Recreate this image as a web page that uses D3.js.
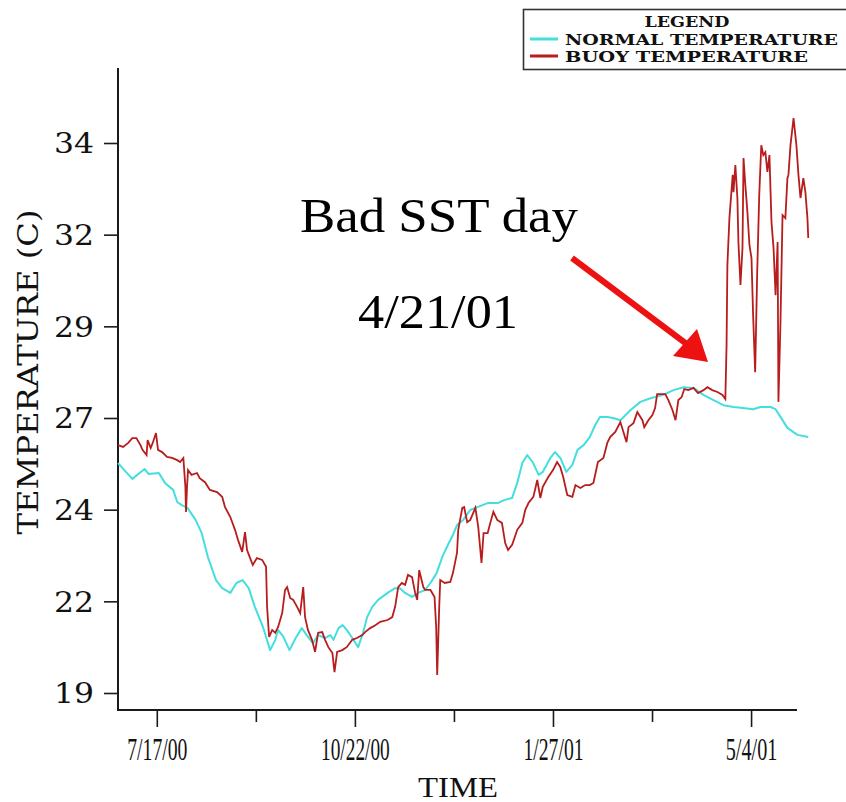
<!DOCTYPE html>
<html>
<head>
<meta charset="utf-8">
<script src="https://cdn.jsdelivr.net/npm/d3@7"></script>
<style>
  html, body { margin: 0; padding: 0; background: #fff; }
  svg { display: block; }
</style>
</head>
<body>
<svg id="chart" width="846" height="802"></svg>
<script>
// ---- DATA ----
const startDate = "2000-06-28";               // day 0 of the series
const endDate = "2001-05-26";

// Normal (climatological) temperature, days since startDate
const normalDays = [0,7,13,15,20,23,27,29,31,34,38,41,44,48,51,55,58,61,64,67,71,74.5,77,78.4,81,84,87,
  90,93,95.5,98,101.4,104,105.5,108,110,112,114.7,117.6,120,122,124.5,127.4,132,135.7,138,140.6,144,147,150.4,153,156,159,162,164,166,169,172.5,176,181,186,189,193,195.5,198,200.4,203,206,208,211.7,214,216.6,219.5,222.5,225,228,231,233.7,236,239.6,242.5,246,
  251,255.8,260.7,267,272,277,281.8,286.7,291.6,296.5,301.4,306,311,314.6,319.5,322,324.4,327.8,332.7,338];
const normalTemps = [25.27,24.84,25.11,24.97,25.0,24.73,24.54,24.21,24.13,24.05,23.72,23.36,22.71,22.08,21.86,21.73,22.0,22.08,21.86,21.35,20.8,20.17,20.45,20.72,20.53,20.17,20.5,
  20.77,20.53,20.36,20.58,20.5,20.58,20.45,20.77,20.85,20.72,20.5,20.25,20.64,21.07,21.35,21.54,21.73,21.86,21.86,21.73,21.62,21.73,21.81,22.0,22.27,22.74,23.09,23.31,23.58,23.72,23.99,24.07,24.18,24.18,24.26,24.32,24.73,25.27,25.49,25.3,24.95,25.03,25.41,25.57,25.41,25.03,25.22,25.63,25.76,25.98,26.31,26.53,26.53,26.5,26.44,
  26.72,26.94,27.04,27.13,27.26,27.34,27.32,27.13,26.99,26.85,26.8,26.77,26.74,26.8,26.8,26.74,26.53,26.23,26.04,25.98];

// Buoy temperature, days since startDate
const buoyDays = [0,2.5,5,7,9,11,12,14,14.5,16,17,18.6,19.6,21.6,24,26.5,29,30.4,32,33,33.3,33.8,34.3,36,38.7,40,42.6,45,48.5,51,52.4,55,57.3,58.8,60.8,62.2,63.2,64.7,66,68,70.6,72.5,73,74,75.5,77,78.4,80.4,81.8,82.8,84.3,85.8,87.7,89.2,90.7,91.6,93,95,96.5,98,100,101.4,103,105,106,107.3,109.8,112,114.7,117,119.6,121,123.5,126,128.4,132,134.3,135.7,137.2,139,140.6,142,144,145.5,146.5,147.5,149.5,150.4,153,155,155.8,156.3,157.3,157.8,160,162.7,164,166,166.6,168.6,169.5,171,172.5,175,176.4,178,179,181,182.3,183.8,185.7,188,189.6,191,193,195.5,198,199.4,201,203.4,205.3,206.8,208,210.7,213,215,216.6,218,220,222.5,224,226.4,228.8,231,232.8,235,237.7,239.6,241,243.5,246,247.5,249,250,252.4,254.3,256.8,257.7,259.7,261.7,263,264,266.6,268,269.5,271.5,273,274.4,276,277.3,279.3,281.8,284,286.7,288.6,291,293.5,296,297.4,298,298.4,299.4,301,301.4,302.3,303.3,303.8,304.8,305.8,306.3,307.2,308.2,309.2,310.2,311,312,313,314,315,316,317,318,319,320,321,322,323,323.4,324.4,325.4,326.8,327.8,328.3,329.3,330.8,332.2,333.2,334.2,335.6,336.6,337.6,338];
const buoyTemps = [25.76,25.71,25.82,25.95,25.95,25.76,25.63,25.49,25.9,25.68,25.82,26.09,25.63,25.57,25.44,25.41,25.35,25.3,25.41,24.62,23.94,24.62,25.08,24.95,25.0,24.86,24.75,24.54,24.48,24.35,24.07,23.8,23.45,23.17,22.85,23.39,22.9,22.68,22.49,22.68,22.63,22.44,21.35,20.53,20.72,20.64,20.8,21.18,21.81,21.89,21.59,21.54,21.35,21.18,21.89,21.07,20.72,20.45,20.12,20.64,20.66,20.45,20.25,20.09,19.57,20.12,20.17,20.25,20.45,20.5,20.58,20.66,20.77,20.85,20.94,20.99,21.07,21.35,21.89,22.0,21.95,22.22,22.16,21.73,21.54,22.35,21.89,21.81,21.81,21.62,20.8,19.49,21.35,22.08,22.0,22.03,22.27,22.82,23.45,24.05,24.07,23.66,23.72,24.05,23.53,22.55,23.36,23.36,23.64,23.94,23.72,23.64,23.09,22.9,23.04,23.45,23.64,23.99,24.18,24.35,24.81,24.32,24.62,24.89,25.08,25.3,25.16,24.89,24.4,24.35,24.67,24.59,24.67,24.67,24.73,25.3,25.41,25.82,25.98,26.12,26.39,26.12,25.84,26.25,26.36,26.66,26.44,26.25,26.44,26.58,26.77,27.15,27.15,27.15,26.99,26.72,26.44,26.99,27.07,27.29,27.26,27.32,27.18,27.26,27.34,27.26,27.21,27.13,27.02,28.49,30.67,31.95,33.13,32.66,33.4,32.5,31.3,30.13,31.14,33.59,32.85,32.12,31.22,30.86,29.31,27.75,30.48,32.58,33.94,33.67,33.75,33.21,33.67,31.84,31.14,29.85,31.3,26.94,29.12,32.03,31.95,33.04,33.13,33.94,34.68,33.94,33.13,32.5,33.04,32.66,31.95,31.41];

const yTickValues = [19, 21.5, 24, 26.5, 29, 31.5, 34];
const yTickLabels = ["19", "22", "24", "27", "29", "32", "34"];
const xTickDates = ["2000-07-17", "2000-10-22", "2001-01-27", "2001-05-04"];
const xTickLabels = ["7/17/00", "10/22/00", "1/27/01", "5/4/01"];
const legendItems = ["NORMAL TEMPERATURE", "BUOY TEMPERATURE"];
const seriesColors = ["#45dede", "#b81d1d"];

// ---- CHART ----
const svg = d3.select("#chart");
const parse = d3.utcParse("%Y-%m-%d");
const t0 = parse(startDate).getTime();
const dayToDate = d => new Date(t0 + d * 864e5);

const x = d3.scaleUtc().domain([parse(startDate), parse(endDate)]).range([118, 796]);
const y = d3.scaleLinear().domain([19, 34]).range([693, 143]);

const axisColor = "#1a1a1a";
const serifMono = "'DejaVu Serif', 'Liberation Serif', serif";
const times = "'Liberation Serif', 'Times New Roman', serif";

// Y axis
const yAxis = d3.axisLeft(y)
  .tickValues(yTickValues)
  .tickFormat((d, i) => yTickLabels[i])
  .tickSize(14).tickSizeOuter(0).tickPadding(10);
const gy = svg.append("g").attr("transform", "translate(118,0)").call(yAxis);
gy.select(".domain").remove();
gy.selectAll(".tick line").attr("stroke", axisColor).attr("stroke-width", 1.6);
gy.selectAll(".tick text")
  .attr("font-family", serifMono).attr("font-size", 27).attr("fill", "#111")
  .attr("textLength", 40).attr("lengthAdjust", "spacingAndGlyphs")
  .attr("dy", "0.36em");
svg.append("line").attr("x1", 118).attr("x2", 118).attr("y1", 68).attr("y2", 711)
  .attr("stroke", axisColor).attr("stroke-width", 2);

// X axis
const majorDates = xTickDates.map(parse);
const minorDates = d3.pairs(majorDates).map(([a, b]) => new Date((a.getTime() + b.getTime()) / 2));
const xAxisMajor = d3.axisBottom(x).tickValues(majorDates)
  .tickFormat((d, i) => xTickLabels[i]).tickSize(17).tickSizeOuter(0);
const gx = svg.append("g").attr("transform", "translate(0,710)").call(xAxisMajor);
gx.select(".domain").remove();
gx.selectAll(".tick line").attr("stroke", axisColor).attr("stroke-width", 1.6);
gx.selectAll(".tick text")
  .attr("y", 50).attr("dy", 0)
  .attr("font-family", times).attr("font-size", 31).attr("fill", "#111")
  .attr("textLength", (d, i) => xTickLabels[i].length * 8.6)
  .attr("lengthAdjust", "spacingAndGlyphs");
const gxm = svg.append("g").attr("transform", "translate(0,710)")
  .call(d3.axisBottom(x).tickValues(minorDates).tickFormat("").tickSize(12).tickSizeOuter(0));
gxm.select(".domain").remove();
gxm.selectAll(".tick line").attr("stroke", axisColor).attr("stroke-width", 1.6);
svg.append("line").attr("x1", 117).attr("x2", 797).attr("y1", 710).attr("y2", 710)
  .attr("stroke", axisColor).attr("stroke-width", 2);

// Axis titles
svg.append("text").attr("x", 458).attr("y", 797).attr("text-anchor", "middle")
  .attr("font-family", times).attr("font-size", 29).attr("fill", "#111")
  .attr("textLength", 80).attr("lengthAdjust", "spacingAndGlyphs").text("TIME");
svg.append("text").attr("transform", "translate(38,372) rotate(-90)").attr("text-anchor", "middle")
  .attr("font-family", serifMono).attr("font-size", 27).attr("fill", "#111")
  .attr("textLength", 325).attr("lengthAdjust", "spacingAndGlyphs").text("TEMPERATURE (C)");

// Lines
const line = d3.line().x(d => x(dayToDate(d[0]))).y(d => y(d[1]));
const normalData = normalDays.map((d, i) => [d, normalTemps[i]]);
const buoyData = buoyDays.map((d, i) => [d, buoyTemps[i]]);
svg.append("path").datum(normalData).attr("d", line)
  .attr("fill", "none").attr("stroke", seriesColors[0]).attr("stroke-width", 2).attr("stroke-linejoin", "round");
svg.append("path").datum(buoyData).attr("d", line)
  .attr("fill", "none").attr("stroke", seriesColors[1]).attr("stroke-width", 1.8).attr("stroke-linejoin", "miter");

// Annotation
svg.append("text").attr("x", 439).attr("y", 232).attr("text-anchor", "middle")
  .attr("font-family", times).attr("font-size", 48).attr("fill", "#000")
  .attr("textLength", 278).attr("lengthAdjust", "spacingAndGlyphs").text("Bad SST day");
svg.append("text").attr("x", 438).attr("y", 328).attr("text-anchor", "middle")
  .attr("font-family", times).attr("font-size", 48).attr("fill", "#000")
  .attr("textLength", 160).attr("lengthAdjust", "spacingAndGlyphs").text("4/21/01");
svg.append("line").attr("x1", 572).attr("y1", 258).attr("x2", 688).attr("y2", 345)
  .attr("stroke", "#ee1111").attr("stroke-width", 6);
svg.append("path").attr("d", "M708,362 L673,356 L697,329 Z").attr("fill", "#ee1111");

// Legend
const lg = svg.append("g");
lg.append("rect").attr("x", 523.5).attr("y", 9.5).attr("width", 340).attr("height", 60)
  .attr("fill", "#fff").attr("stroke", "#333").attr("stroke-width", 1.6);
lg.append("text").attr("x", 687).attr("y", 27).attr("text-anchor", "middle")
  .attr("font-family", serifMono).attr("font-size", 15).attr("font-weight", "bold").attr("fill", "#111")
  .attr("textLength", 85).attr("lengthAdjust", "spacingAndGlyphs").text("LEGEND");
const legendTextLen = [273, 243];
legendItems.forEach((name, i) => {
  const yy = 39 + i * 17;
  lg.append("line").attr("x1", 530).attr("x2", 558).attr("y1", yy).attr("y2", yy)
    .attr("stroke", seriesColors[i === 1 ? 1 : 0]).attr("stroke-width", 3);
  lg.append("text").attr("x", 565).attr("y", yy + 6)
    .attr("font-family", serifMono).attr("font-size", 15).attr("font-weight", "bold").attr("fill", "#111")
    .attr("textLength", legendTextLen[i]).attr("lengthAdjust", "spacingAndGlyphs").text(name);
});
</script>
</body>
</html>
